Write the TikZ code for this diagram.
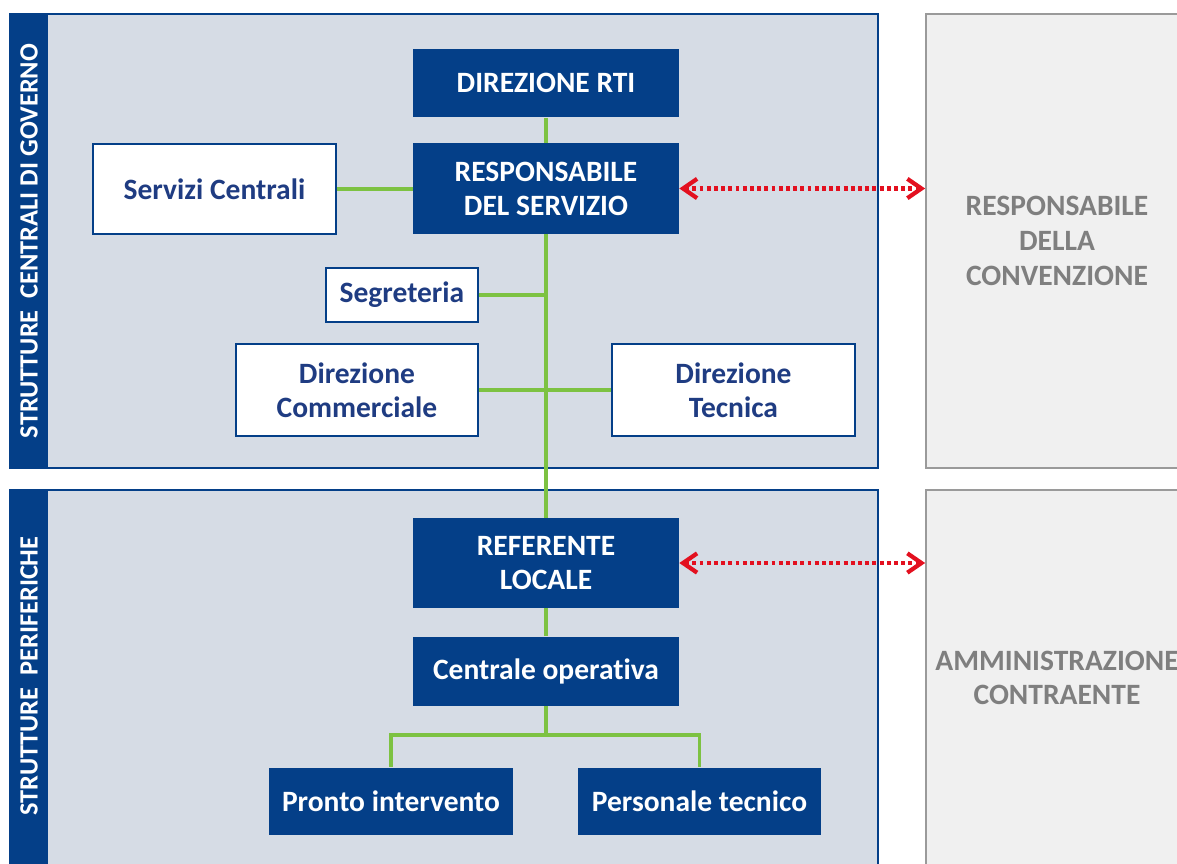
\documentclass[tikz,border=0pt]{standalone}
\usepackage{fontspec}
\setmainfont{Carlito}[Ligatures=NoCommon]
\usepackage{xcolor}
\usetikzlibrary{arrows.meta}
\definecolor{navy}{HTML}{043F88}
\definecolor{navytext}{HTML}{1F3C82}
\definecolor{panelfill}{HTML}{D6DCE5}
\definecolor{linkgreen}{HTML}{7DC242}
\definecolor{dotred}{HTML}{E3101F}
\definecolor{greyfill}{HTML}{F0F0F0}
\definecolor{greyline}{HTML}{9A9A9A}
\definecolor{greytext}{HTML}{7F7F7F}
\tikzset{
  darkbox/.style={fill=navy, text=white, align=center, inner sep=0pt,
    font=\fontsize{16.8}{19.3}\selectfont\bfseries},
  whitebox/.style={draw=navy, line width=1.1pt, fill=white, text=navytext,
    align=center, inner sep=0pt, font=\fontsize{16.8}{19.3}\selectfont\bfseries},
  greybox/.style={draw=greyline, line width=1pt, fill=greyfill, text=greytext,
    align=center, inner sep=0pt, font=\fontsize{16.8}{19.8}\selectfont\bfseries},
  panel/.style={draw=navy, line width=0.9pt, fill=panelfill},
  bandtext/.style={text=white, rotate=90, font=\fontsize{15}{18}\selectfont\bfseries},
  link/.style={draw=linkgreen, line width=2.2pt},
  dotarrow/.style={draw=dotred, line width=2.4pt, dash pattern=on 2.2pt off 1.9pt,
    {Straight Barb[length=8pt,width=11pt]}-{Straight Barb[length=8pt,width=11pt]}}
}
\begin{document}
\begin{tikzpicture}[x=0.02cm, y=-0.02cm]
\clip (0,0) rectangle (1177,863);
\fill[white] (0,0) rectangle (1177,863);

\draw[panel] (10,14) rectangle (878,468);
\fill[navy] (10,14) rectangle (48,468);
\node[bandtext] (govlabel) at (29,241) {STRUTTURE\ \ CENTRALI DI GOVERNO};

\draw[panel] (10,490) rectangle (878,880);
\fill[navy] (10,490) rectangle (48,880);
\node[bandtext] (perlabel) at (29,676) {STRUTTURE\ \ PERIFERICHE};

\node[greybox, minimum width=5.24cm, minimum height=9.08cm] (respconv) at (1057,241) {RESPONSABILE\\DELLA\\CONVENZIONE};
\node[greybox, minimum width=5.24cm, minimum height=7.52cm] (amministrazione) at (1057,678) {AMMINISTRAZIONE\\CONTRAENTE};

\node[darkbox, minimum width=5.32cm, minimum height=1.38cm] (direzione) at (546,83) {DIREZIONE RTI};
\node[darkbox, minimum width=5.32cm, minimum height=1.82cm] (responsabile) at (546,188.5) {RESPONSABILE\\DEL SERVIZIO};
\node[whitebox, minimum width=4.86cm, minimum height=1.8cm] (servizi) at (214.5,189) {Servizi Centrali};
\node[whitebox, minimum width=3.04cm, minimum height=1.08cm] (segreteria) at (402,295) {Segreteria};
\node[whitebox, minimum width=4.84cm, minimum height=1.84cm] (dircomm) at (357,390) {Direzione\\Commerciale};
\node[whitebox, minimum width=4.86cm, minimum height=1.84cm] (dirtec) at (733.5,390) {Direzione\\Tecnica};

\node[darkbox, minimum width=5.32cm, minimum height=1.8cm] (referente) at (546,563) {REFERENTE\\LOCALE};
\node[darkbox, minimum width=5.32cm, minimum height=1.38cm] (centrale) at (546,671) {Centrale operativa};
\node[darkbox, minimum width=4.88cm, minimum height=1.34cm] (pronto) at (391,801) {Pronto intervento};
\node[darkbox, minimum width=4.86cm, minimum height=1.34cm] (personale) at (699.5,801) {Personale tecnico};
\coordinate (split) at (546,735);

\draw[link] (direzione) -- (responsabile);
\draw[link] (responsabile) -- (referente);
\draw[link] (servizi.east) -- (servizi.east -| responsabile.west);
\draw[link] (segreteria.east) -- (segreteria.east -| responsabile.south);
\draw[link] (dircomm) -- (dirtec);
\draw[link] (referente) -- (centrale);
\draw[link] (centrale) -- (split);
\draw[link] (pronto.north) |- (split) -| (personale.north);

\draw[dotarrow] (responsabile.east) -- (responsabile.east -| respconv.west);
\draw[dotarrow] (referente.east) -- (referente.east -| amministrazione.west);
\end{tikzpicture}
\end{document}
